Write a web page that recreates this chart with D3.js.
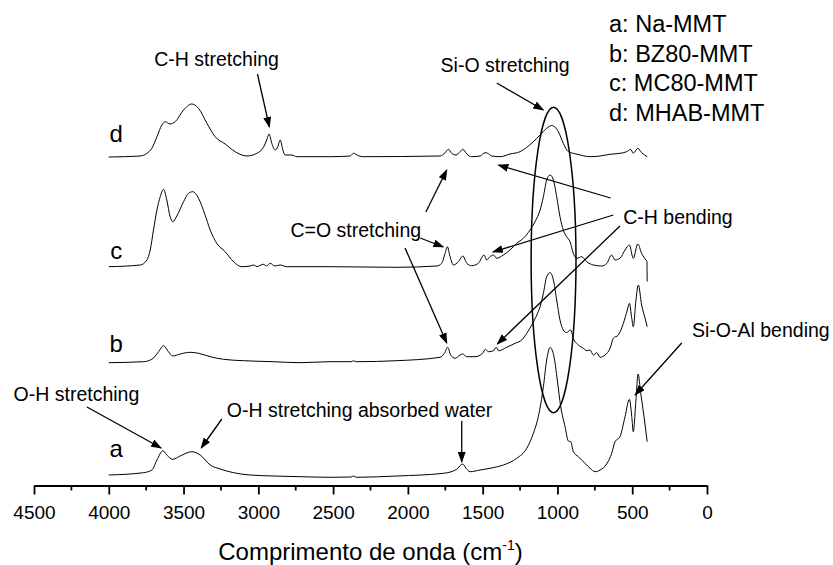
<!DOCTYPE html>
<html lang="pt">
<head>
<meta charset="UTF-8">
<title>FTIR - MMT</title>
<script src="https://d3js.org/d3.v7.min.js"></script>
<style>
  body { margin: 0; background: #fff; }
  svg { display: block; font-family: Arial, "Liberation Sans", sans-serif; }
  .spectrum { fill: none; stroke: #000; stroke-width: 1; }
  .axis path, .axis line { stroke: #000; stroke-width: 1.8; }
  .axis text { font-size: 19px; fill: #000; }
  .note { font-size: 19.5px; fill: #000; }
  .arrow { stroke: #000; stroke-width: 1.3; fill: none; }
</style>
</head>
<body>
<svg id="chart" width="833" height="565"></svg>
<script>
// amostras
const sampleKeys = ["a", "b", "c", "d"];
const sampleNames = ["Na-MMT", "BZ80-MMT", "MC80-MMT", "MHAB-MMT"];
const sampleOffsets = [1.1, 12.3, 21.9, 32.9];
const labelPos = [[3950, 2.9], [3950, 13.4], [3950, 22.7], [3950, 34.4]];

// espectros [numero de onda, absorbancia relativa]
const naMMT = [[4000,0],[3768,0.23],[3712,0.5],[3678,1.5],[3638,2.43],[3612,2.0],[3572,1.57],[3523,1.9],[3445,2.33],[3389,2.0],[3322,1.0],[3255,0.6],[3166,0.23],[3055,0],[2900,-0.1],[2721,-0.17],[2520,-0.23],[2380,-0.2],[2364,-0.1],[2345,-0.23],[2074,-0.1],[1763,0.17],[1673,0.57],[1647,1.0],[1633,1.1],[1611,0.67],[1584,0.33],[1517,0.5],[1451,0.67],[1362,1.0],[1272,1.67],[1205,2.67],[1161,4.17],[1128,5.83],[1094,8.83],[1072,11.5],[1049,12.75],[1023,11.83],[1001,9.5],[978,6.83],[949,4.83],[927,3.4],[911,3.33],[894,2.33],[860,1.83],[838,1.5],[816,1.17],[782,0.67],[749,0.33],[715,0.5],[671,1.1],[637,2.17],[615,3.33],[582,3.83],[548,5.83],[519,7.57],[503,5.83],[493,4.33],[475,7.5],[461,10.1],[443,8.17],[421,5.83],[400,3.33]];
const bz80MMT = [[4000,0.03],[3768,0.13],[3712,0.37],[3667,1.13],[3634,1.73],[3601,1.13],[3572,0.7],[3523,0.9],[3456,1.07],[3400,0.97],[3322,0.63],[3233,0.37],[3100,0.23],[2900,0.13],[2721,0.03],[2520,0.13],[2380,0.13],[2364,0.22],[2345,0.13],[2074,0.23],[1785,0.57],[1756,0.97],[1734,1.57],[1714,0.8],[1684,0.47],[1651,0.8],[1633,0.9],[1606,0.63],[1551,0.63],[1500,0.97],[1482,1.37],[1462,1.13],[1428,1.23],[1410,1.57],[1392,1.23],[1339,1.57],[1283,1.97],[1239,2.3],[1205,2.97],[1172,3.8],[1138,4.8],[1116,5.63],[1094,6.97],[1072,8.63],[1049,9.03],[1027,8.3],[1005,6.3],[983,4.3],[961,3.3],[939,3.05],[911,3.3],[894,2.47],[860,1.8],[827,1.47],[804,1.23],[782,1.3],[760,0.8],[737,1.03],[715,0.57],[682,0.8],[648,1.47],[626,2.47],[593,2.8],[559,3.97],[533,5.3],[519,5.97],[503,4.47],[493,3.63],[475,6.3],[459,7.8],[437,5.8],[414,4.47],[400,3.63]];
const mc80MMT = [[4000,0.03],[3790,0.2],[3745,0.7],[3723,1.7],[3701,3.7],[3678,5.7],[3656,7.03],[3634,7.77],[3612,6.7],[3590,5.03],[3572,4.53],[3545,5.1],[3500,6.53],[3467,7.37],[3438,7.53],[3400,6.87],[3356,5.2],[3322,3.7],[3278,2.37],[3222,1.53],[3166,0.53],[3110,0.03],[3055,0.1],[3032,0.2],[3010,0.05],[2966,0.27],[2944,0.1],[2921,0.37],[2890,0.1],[2854,0.2],[2810,0.03],[2520,0.03],[2074,-0.03],[1807,0.1],[1774,0.37],[1751,1.37],[1736,2.03],[1718,1.03],[1696,0.2],[1662,0.53],[1633,1.1],[1606,0.37],[1573,0.13],[1529,0.37],[1491,1.2],[1473,0.7],[1451,1.03],[1428,1.2],[1406,0.87],[1362,1.2],[1317,1.7],[1272,2.37],[1228,2.87],[1183,3.7],[1150,4.53],[1116,5.7],[1094,7.03],[1072,8.7],[1049,9.2],[1027,8.7],[1005,7.03],[983,5.03],[961,3.7],[939,3.03],[916,2.53],[894,1.37],[871,0.87],[838,1.03],[804,0.53],[760,0.2],[704,0.1],[670,0.37],[637,1.2],[615,0.7],[582,0.87],[548,1.7],[519,2.2],[493,0.87],[463,2.3],[437,1.37],[408,0.7],[402,0.6],[400,-1.45]];
const mhabMMT = [[4000,0],[3790,0.1],[3745,0.37],[3712,0.87],[3678,2.03],[3645,3.2],[3623,3.53],[3590,3.3],[3556,3.53],[3500,4.7],[3445,5.3],[3400,4.87],[3344,3.37],[3289,2.03],[3222,1.3],[3155,0.53],[3077,0.1],[3010,0.37],[2966,0.97],[2944,1.7],[2928,2.3],[2910,1.37],[2888,0.7],[2870,1.03],[2854,1.7],[2836,0.7],[2821,0.2],[2776,0.2],[2743,0.03],[2520,0.03],[2386,0.1],[2364,0.37],[2331,0.13],[2297,0.03],[1785,0.1],[1751,0.43],[1729,0.77],[1707,0.37],[1678,0.2],[1651,0.53],[1633,0.77],[1606,0.3],[1573,0.03],[1517,0.1],[1484,0.43],[1466,0.37],[1439,0.1],[1384,0.03],[1317,0.3],[1250,0.53],[1205,0.97],[1116,2.2],[1072,2.87],[1038,3.15],[994,2.53],[961,1.37],[927,0.53],[894,0.37],[849,0.2],[782,0.03],[715,0.1],[648,0.27],[582,0.37],[537,0.53],[510,0.77],[493,0.37],[463,0.87],[437,0.43],[399,0.03]];
const spectra = [naMMT, bz80MMT, mc80MMT, mhabMMT];

// eixo x
const xMajorTicks = d3.range(4500, -1, -500);
const xMinorTicks = d3.range(4250, 0, -500);

// anotacoes [texto, x, y]
const noteTexts = [
  ["C-H stretching", 3279, 42.0],
  ["Si-O stretching", 1350, 41.4],
  ["C=O stretching", 2348, 24.9],
  ["C-H bending", 194, 26.2],
  ["Si-O-Al bending", -360, 14.9],
  ["O-H stretching", 4216, 8.5],
  ["O-H stretching absorbed water", 2323, 6.9]
];
// setas [x1, y1, x2, y2]
const noteArrows = [
  [3006, 41.2, 2926, 35.9],
  [1406, 40.3, 1094, 37.6],
  [1880, 27.4, 1740, 31.6],
  [1918, 24.8, 1763, 23.9],
  [2019, 23.8, 1740, 14.3],
  [644, 28.8, 1395, 32.1],
  [626, 27.1, 1432, 23.4],
  [582, 26.0, 1402, 14.2],
  [169, 14.3, 481, 9.1],
  [4146, 7.9, 3650, 3.8],
  [3244, 6.7, 3382, 3.8],
  [1640, 6.5, 1640, 2.4]
];
// elipse Si-O [centro x, centro y, raio x, raio y]
const siOEllipse = [1026, 22.6, 150, 15.27];
const legendPos = [655, 45.4, 2.95];

const svg = d3.select("#chart");
const x = d3.scaleLinear().domain([4500, 0]).range([34, 707]);
const y = d3.scaleLinear().domain([0, 45]).range([486, 36]);

svg.append("defs").append("marker")
    .attr("id", "head")
    .attr("markerUnits", "userSpaceOnUse")
    .attr("markerWidth", 11).attr("markerHeight", 8)
    .attr("refX", 10).attr("refY", 4)
    .attr("orient", "auto")
  .append("path")
    .attr("d", "M0,0 L11,4 L0,8 Z")
    .attr("fill", "#000");

// espectros
const line = d3.line()
    .x(d => x(d[0]))
    .y(d => y(d[1]))
    .curve(d3.curveMonotoneX);

spectra.forEach((s, i) => {
    const shifted = s.map(p => [p[0], p[1] + sampleOffsets[i]]);
    svg.append("path")
        .attr("class", "spectrum")
        .attr("d", line(shifted));
    svg.append("text")
        .attr("x", x(labelPos[i][0]))
        .attr("y", y(labelPos[i][1]))
        .attr("text-anchor", "middle")
        .attr("font-size", 24)
        .text(sampleKeys[i]);
});

// eixo
const axis = svg.append("g")
    .attr("class", "axis")
    .attr("transform", `translate(0,${y(0) - 0.5})`);
axis.call(d3.axisBottom(x).tickValues(xMajorTicks).tickSize(9).tickPadding(11).tickSizeOuter(0).tickFormat(d3.format("d")));
axis.selectAll(".minor")
    .data(xMinorTicks)
    .enter().append("line")
    .attr("class", "minor")
    .attr("x1", d => x(d)).attr("x2", d => x(d))
    .attr("y1", 0).attr("y2", 5);

const title = svg.append("text")
    .attr("x", (x(4500) + x(0)) / 2)
    .attr("y", 560)
    .attr("text-anchor", "middle")
    .attr("font-size", 24);
title.append("tspan").text("Comprimento de onda (cm");
title.append("tspan").attr("font-size", 14).attr("dy", -10).text("-1");
title.append("tspan").attr("dy", 10).text(")");

// anotacoes
svg.selectAll(".note")
    .data(noteTexts)
    .enter().append("text")
    .attr("class", "note")
    .attr("x", d => x(d[1]))
    .attr("y", d => y(d[2]))
    .attr("text-anchor", "middle")
    .text(d => d[0]);

svg.selectAll(".arrow")
    .data(noteArrows)
    .enter().append("line")
    .attr("class", "arrow")
    .attr("x1", d => x(d[0])).attr("y1", d => y(d[1]))
    .attr("x2", d => x(d[2])).attr("y2", d => y(d[3]))
    .attr("marker-end", "url(#head)");

svg.append("ellipse")
    .attr("cx", x(siOEllipse[0]))
    .attr("cy", y(siOEllipse[1]))
    .attr("rx", x(siOEllipse[0] - siOEllipse[2]) - x(siOEllipse[0]))
    .attr("ry", y(0) - y(siOEllipse[3]))
    .attr("fill", "none")
    .attr("stroke", "#000")
    .attr("stroke-width", 1.5);

// legenda
svg.selectAll(".legend")
    .data(sampleKeys)
    .enter().append("text")
    .attr("class", "legend")
    .attr("x", x(legendPos[0]))
    .attr("y", (d, i) => y(legendPos[1] - i * legendPos[2]))
    .attr("font-size", 23.5)
    .text((d, i) => `${d}: ${sampleNames[i]}`);
</script>
</body>
</html>
